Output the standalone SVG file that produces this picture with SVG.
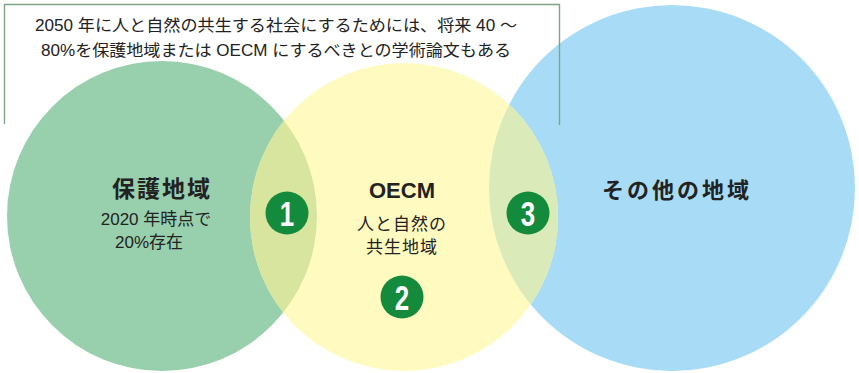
<svg xmlns="http://www.w3.org/2000/svg" width="859" height="373" viewBox="0 0 859 373">
<style>
.t{font-family:"Liberation Sans","Noto Sans CJK JP",sans-serif;fill:#222;}
.b{font-weight:bold;}
.num{font-family:"Liberation Sans",sans-serif;font-weight:bold;fill:#fff;font-size:36px;text-anchor:middle;}
.badge{fill:#138a3c;}
</style>
<defs>
<clipPath id="cy"><circle cx="404" cy="217" r="154"/></clipPath>
</defs>
<rect width="859" height="373" fill="#fff"/>
<g id="green">
<circle cx="162" cy="216" r="155" fill="#98d0ad"/>
</g>
<g id="blue">
<circle cx="672" cy="188" r="183" fill="#a8dcf6"/>
</g>
<g id="yellow">
<circle cx="404" cy="217" r="154" fill="#fffbc0"/>
</g>
<g id="overlaps" clip-path="url(#cy)">
<circle cx="162" cy="216" r="155" fill="#d7e59f"/>
<circle cx="672" cy="188" r="183" fill="#dbeab9"/>
</g>
<g id="note">
<path d="M4.5 124V4.5H559.5V125" fill="none" stroke="#7fa584" stroke-width="1.4"/>
<text class="t" x="276" y="31" font-size="16" text-anchor="middle" textLength="482" lengthAdjust="spacingAndGlyphs">2050 年に人と自然の共生する社会にするためには、将来 40 ～</text>
<text class="t" x="276" y="56" font-size="16" text-anchor="middle" textLength="470" lengthAdjust="spacingAndGlyphs">80%を保護地域または OECM にするべきとの学術論文もある</text>
</g>
<g id="protected">
<text class="t b" x="162" y="197" font-size="23" text-anchor="middle" letter-spacing="2">保護地域</text>
<text class="t" x="156" y="225" font-size="17" text-anchor="middle">2020 年時点で</text>
<text class="t" x="149" y="248" font-size="17" text-anchor="middle">20%存在</text>
</g>
<g id="oecm">
<text class="t b" x="402" y="198" font-size="22" text-anchor="middle">OECM</text>
<text class="t" x="402" y="230" font-size="17" text-anchor="middle" letter-spacing="1">人と自然の</text>
<text class="t" x="402" y="253" font-size="17" text-anchor="middle" letter-spacing="1">共生地域</text>
</g>
<g id="other">
<text class="t b" x="677" y="198" font-size="22" text-anchor="middle" letter-spacing="3">その他の地域</text>
</g>
<g id="badge1">
<circle class="badge" cx="287" cy="213" r="21.5"/>
<text class="num" x="287" y="226" transform="translate(287 0) scale(0.72 1) translate(-287 0)">1</text>
</g>
<g id="badge2">
<circle class="badge" cx="402" cy="297" r="21.5"/>
<text class="num" x="402" y="310" transform="translate(402 0) scale(0.72 1) translate(-402 0)">2</text>
</g>
<g id="badge3">
<circle class="badge" cx="528" cy="213" r="21.5"/>
<text class="num" x="528" y="226" transform="translate(528 0) scale(0.72 1) translate(-528 0)">3</text>
</g>
<g id="connectors"></g>
</svg>
